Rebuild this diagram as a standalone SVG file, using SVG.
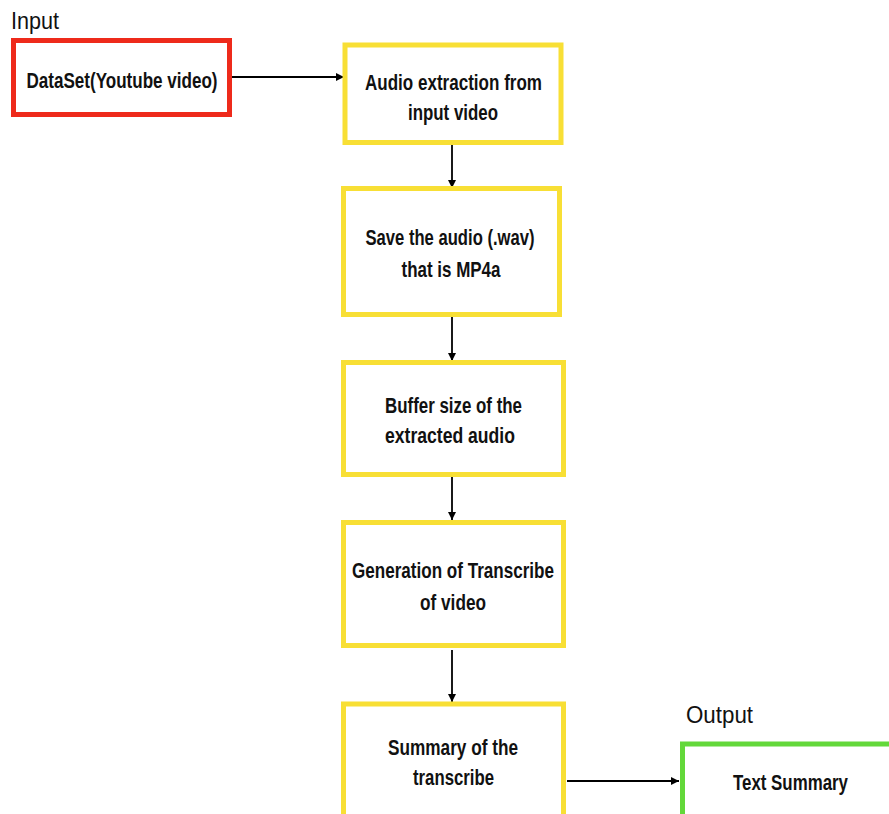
<svg xmlns="http://www.w3.org/2000/svg" width="889" height="814" viewBox="0 0 889 814">
<style>
  .box { fill: #ffffff; stroke-width: 5; }
  .yellow { stroke: #f8df35; }
  .red { stroke: #ee2a1b; }
  .green { stroke: #63d83a; }
  .t { font-family: "Liberation Sans", Arial, sans-serif; font-weight: bold; font-size: 22.5px; fill: #111111; text-anchor: middle; }
  .lbl { font-family: "Liberation Sans", Arial, sans-serif; font-size: 23px; fill: #111111; }
  .conn { stroke: #000000; stroke-width: 1.8; fill: none; marker-end: url(#arrow); }
</style>
<defs>
  <marker id="arrow" viewBox="0 0 10 10" refX="10" refY="5" markerWidth="8" markerHeight="8" markerUnits="userSpaceOnUse" orient="auto">
    <path d="M0,0 L10,5 L0,10 z" fill="#000000"/>
  </marker>
</defs>
<rect x="0" y="0" width="889" height="814" fill="#ffffff"/>

<text class="lbl" x="11" y="29" textLength="48" lengthAdjust="spacingAndGlyphs">Input</text>
<text class="lbl" x="686" y="723" textLength="67" lengthAdjust="spacingAndGlyphs">Output</text>

<g id="connectors">
  <line class="conn" x1="232" y1="77" x2="344" y2="77"/>
  <line class="conn" x1="452" y1="145" x2="452" y2="188"/>
  <line class="conn" x1="452" y1="317" x2="452" y2="361"/>
  <line class="conn" x1="452" y1="477" x2="452" y2="520"/>
  <line class="conn" x1="452" y1="650" x2="452" y2="702"/>
  <line class="conn" x1="567" y1="781" x2="679" y2="781"/>
</g>

<g id="node-dataset">
  <rect class="box red" x="13.5" y="40.5" width="216" height="74"/>
  <text class="t" x="122" y="88" textLength="191" lengthAdjust="spacingAndGlyphs">DataSet(Youtube video)</text>
</g>

<g id="node-audio-extraction">
  <rect class="box yellow" x="345" y="45" width="216" height="97.5"/>
  <text class="t" x="453.5" y="90" textLength="177" lengthAdjust="spacingAndGlyphs">Audio extraction from</text>
  <text class="t" x="453" y="120" textLength="90" lengthAdjust="spacingAndGlyphs">input video</text>
</g>

<g id="node-save-audio">
  <rect class="box yellow" x="343.5" y="188.5" width="216" height="126"/>
  <text class="t" x="450" y="245" textLength="169" lengthAdjust="spacingAndGlyphs">Save the audio (.wav)</text>
  <text class="t" x="451" y="277" textLength="99" lengthAdjust="spacingAndGlyphs">that is MP4a</text>
</g>

<g id="node-buffer">
  <rect class="box yellow" x="343.5" y="362.5" width="220" height="112"/>
  <text class="t" x="453.5" y="413" textLength="137" lengthAdjust="spacingAndGlyphs">Buffer size of the</text>
  <text class="t" x="450" y="443" textLength="130" lengthAdjust="spacingAndGlyphs">extracted audio</text>
</g>

<g id="node-transcribe">
  <rect class="box yellow" x="343.5" y="522.5" width="220" height="123"/>
  <text class="t" x="453" y="578" textLength="202" lengthAdjust="spacingAndGlyphs">Generation of Transcribe</text>
  <text class="t" x="453" y="610" textLength="66" lengthAdjust="spacingAndGlyphs">of video</text>
</g>

<g id="node-summary">
  <rect class="box yellow" x="343.5" y="704" width="220" height="130"/>
  <text class="t" x="453" y="755" textLength="130" lengthAdjust="spacingAndGlyphs">Summary of the</text>
  <text class="t" x="453.5" y="785" textLength="81" lengthAdjust="spacingAndGlyphs">transcribe</text>
</g>

<g id="node-text-summary">
  <rect class="box green" x="682.5" y="744" width="230" height="100"/>
  <text class="t" x="790.5" y="790" textLength="115" lengthAdjust="spacingAndGlyphs">Text Summary</text>
</g>
</svg>
